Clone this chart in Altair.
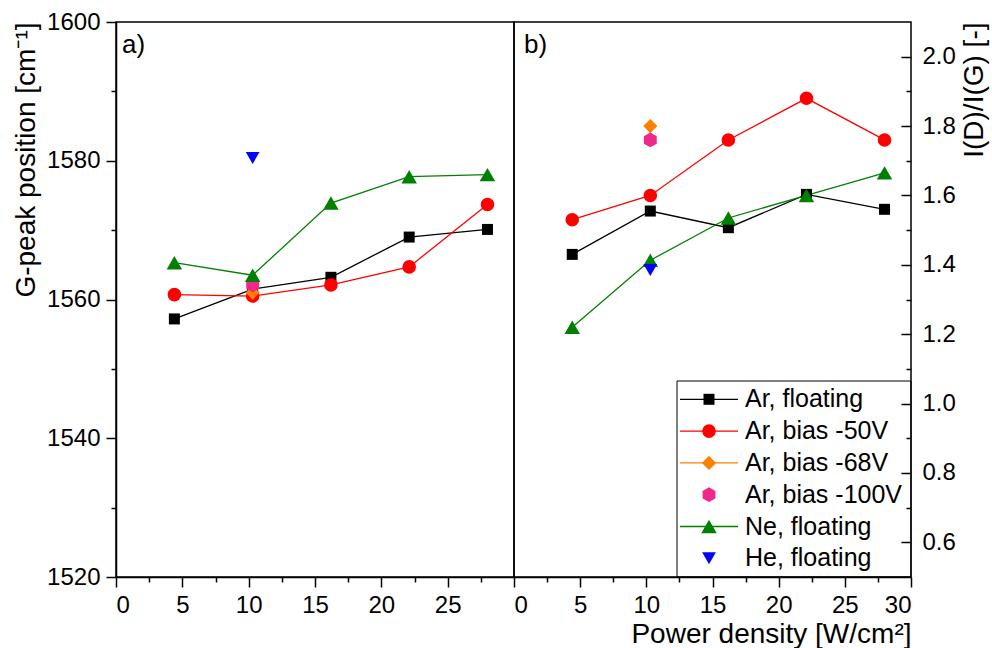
import altair as alt
import pandas as pd

# Power density of the deposition runs [W/cm²]
power = [4.4, 10.3, 16.2, 22.1, 28.0]

series = ["Ar, floating", "Ar, bias -50V", "Ar, bias -68V",
          "Ar, bias -100V", "Ne, floating", "He, floating"]

# G-peak position [cm-1]
g_ar_floating = [1557.2, 1561.5, 1563.2, 1569.0, 1570.1]
g_ar_50 = [1560.7, 1560.5, 1562.1, 1564.7, 1573.7]
g_ar_68 = [1561.0]
g_ar_100 = [1562.1]
g_ne = [1565.3, 1563.5, 1573.9, 1577.7, 1578.0]
g_he = [1580.4]

# I(D)/I(G) intensity ratio [-]
r_ar_floating = [1.43, 1.555, 1.507, 1.603, 1.56]
r_ar_50 = [1.53, 1.60, 1.76, 1.88, 1.76]
r_ar_68 = [1.80]
r_ar_100 = [1.76]
r_ne = [1.22, 1.413, 1.535, 1.60, 1.665]
r_he = [1.385]

# marker styling
colors = ["#000000", "#ff0000", "#ff8000", "#f0288c", "#008000", "#0000ff"]
hexagon = "M0,-1L0.866,-0.5L0.866,0.5L0,1L-0.866,0.5L-0.866,-0.5Z"
shapes = ["square", "circle", "diamond", hexagon, "triangle-up", "triangle-down"]
sizes = [121, 185, 200, 220, 240, 190]
lined = ["Ar, floating", "Ar, bias -50V", "Ne, floating"]
legend_lined = ["Ar, floating", "Ar, bias -50V", "Ar, bias -68V", "Ne, floating"]

FONT = "Liberation Sans"
W_A, W_B, H = 398, 397, 555

single = [power[1]]
parts = [
    ("Ar, floating", power, g_ar_floating, r_ar_floating),
    ("Ar, bias -50V", power, g_ar_50, r_ar_50),
    ("Ar, bias -68V", single, g_ar_68, r_ar_68),
    ("Ar, bias -100V", single, g_ar_100, r_ar_100),
    ("Ne, floating", power, g_ne, r_ne),
    ("He, floating", single, g_he, r_he),
]
records = []
for name, xs, gs, rs in parts:
    for x, g, r in zip(xs, gs, rs):
        records.append({"series": name, "power": x, "gpeak": g, "ratio": r})
df = pd.DataFrame(records)
size_of = dict(zip(series, sizes))
df["msize"] = df["series"].map(size_of)

leg = pd.DataFrame({"series": series, "row": list(range(len(series)))})
leg["msize"] = leg["series"].map(size_of)

color = alt.Color("series:N", scale=alt.Scale(domain=series, range=colors), legend=None)
shape = alt.Shape("series:N", scale=alt.Scale(domain=series, range=shapes), legend=None)
msize = alt.Size("msize:Q", scale=None, legend=None)
xscale = alt.Scale(domain=[0, 30], nice=False, zero=False)


def panel(value, ydom, ymajor, yminor, fmt, xmajor, y_orient, y_title,
          x_title, tag, tag_dx, width, legend_layers=()):
    yscale = alt.Scale(domain=ydom, nice=False, zero=False)
    base = alt.Chart(df)

    x_axis_kw = dict(values=xmajor, orient="bottom", title=x_title)
    if x_title:
        x_axis_kw.update(titleAnchor="end", titlePadding=3)

    y_axis_kw = dict(values=ymajor, format=fmt, orient=y_orient, title=y_title,
                     titleAnchor="end", titleAngle=270, titlePadding=6)
    minor_kw = dict(values=yminor, labels=False, domain=False, tickSize=5,
                    orient=y_orient, title=None)
    if y_orient == "right":
        # ticks on the right-hand axis point into the plot
        y_axis_kw.update(titleBaseline="top", titlePadding=5, offset=-10,
                         domain=False, labelPadding=11)
        minor_kw.update(offset=-5)

    lines = base.transform_filter(
        alt.FieldOneOfPredicate(field="series", oneOf=lined)
    ).mark_line(strokeWidth=1.3).encode(
        x=alt.X("power:Q", scale=xscale, axis=alt.Axis(**x_axis_kw)),
        y=alt.Y(f"{value}:Q", scale=yscale, axis=alt.Axis(**y_axis_kw)),
        color=color,
    )

    points = base.mark_point(filled=True, opacity=1).encode(
        x=alt.X("power:Q", scale=xscale, axis=None),
        y=alt.Y(f"{value}:Q", scale=yscale, axis=None),
        color=color, shape=shape, size=msize,
    )

    minor = base.mark_point(opacity=0).encode(
        x=alt.X("power:Q", scale=xscale,
                axis=alt.Axis(values=[2.5, 7.5, 12.5, 17.5, 22.5, 27.5],
                              labels=False, domain=False, tickSize=5,
                              orient="bottom", title=None)),
        y=alt.Y(f"{value}:Q", scale=yscale, axis=alt.Axis(**minor_kw)),
    )

    tag_layer = alt.Chart(pd.DataFrame({"tag": [tag]})).mark_text(
        align="left", baseline="alphabetic", fontSize=26, font=FONT, color="black"
    ).encode(text="tag:N", x=alt.value(tag_dx), y=alt.value(31))

    return alt.layer(lines, points, minor, tag_layer, *legend_layers).resolve_axis(
        x="independent", y="independent"
    ).properties(width=width, height=H)


# legend drawn inside panel b, one row per series
leg_base = alt.Chart(leg).transform_calculate(ly="377.3 + 31.8 * datum.row")
ly = alt.Y("ly:Q", scale=None, axis=None)
legend_box = alt.Chart(pd.DataFrame({"k": [0]})).mark_rect(
    filled=False, color="black", strokeWidth=1
).encode(x=alt.value(163), x2=alt.value(W_B), y=alt.value(359), y2=alt.value(H))
legend_lines = leg_base.transform_filter(
    alt.FieldOneOfPredicate(field="series", oneOf=legend_lined)
).mark_rule(strokeWidth=1.3).encode(
    x=alt.value(166), x2=alt.value(224), y=ly, color=color)
legend_symbols = leg_base.mark_point(filled=True, opacity=1).encode(
    x=alt.value(195), y=ly, color=color, shape=shape, size=msize)
legend_text = leg_base.mark_text(
    align="left", baseline="middle", fontSize=25, font=FONT, color="black"
).encode(x=alt.value(231), y=ly, text="series:N")

panel_a = panel("gpeak", [1520, 1600], [1520, 1540, 1560, 1580, 1600],
                [1530, 1550, 1570, 1590], "d", [0, 5, 10, 15, 20, 25], "left",
                "G-peak position [cm⁻¹]", None, "a)", 6, W_A)
panel_b = panel("ratio", [0.5, 2.1], [0.6, 0.8, 1.0, 1.2, 1.4, 1.6, 1.8, 2.0],
                [0.7, 0.9, 1.1, 1.3, 1.5, 1.7, 1.9], ".1f",
                [0, 5, 10, 15, 20, 25, 30], "right", "I(D)/I(G) [-]",
                "Power density [W/cm²]", "b)", 10, W_B,
                (legend_box, legend_lines, legend_symbols, legend_text))

chart = alt.hconcat(panel_a, panel_b, spacing=0, bounds="flush").configure_view(
    stroke="black", strokeWidth=1.5
).configure_axis(
    labelFont=FONT, labelFontSize=24, labelColor="black",
    titleFont=FONT, titleFontSize=28, titleFontWeight="normal", titleColor="black",
    domainColor="black", domainWidth=1.5, tickColor="black", tickWidth=1.5,
    tickSize=10, labelPadding=6, grid=False,
).properties(
    padding={"left": 11, "top": 9, "right": 0, "bottom": 5},
    background="white",
)

chart.save("out.html", embed_options={"renderer": "svg", "actions": False})
